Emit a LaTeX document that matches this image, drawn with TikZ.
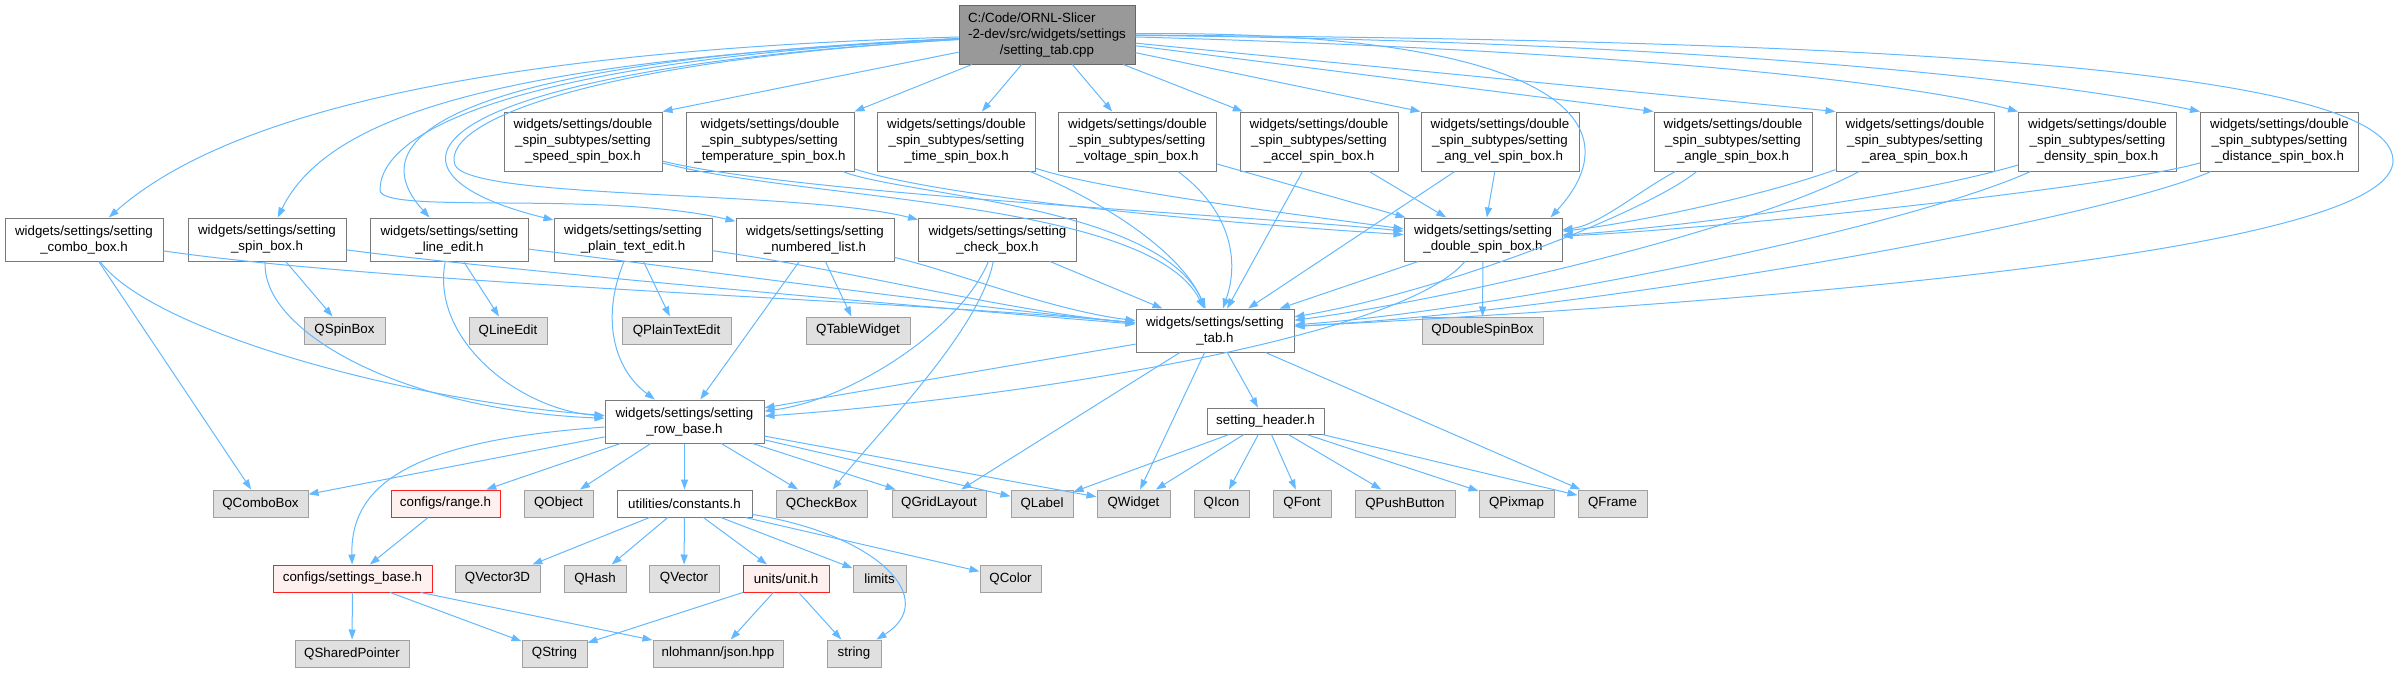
\documentclass[tikz,border=0pt]{standalone}
\usepackage{fontspec}
\setmainfont{Liberation Sans}
\usepackage{tikz}
\usetikzlibrary{positioning, arrows.meta}
\definecolor{linkblue}{HTML}{63B8FF}
\definecolor{boxgray}{HTML}{7A7A7A}
\definecolor{rootfill}{HTML}{999999}
\definecolor{rootline}{HTML}{666666}
\definecolor{extfill}{HTML}{E0E0E0}
\definecolor{extline}{HTML}{A0A0A0}
\definecolor{missfill}{HTML}{FFF0F0}
\definecolor{missline}{HTML}{FF2020}

\begin{document}
\begin{tikzpicture}[x=1pt, y=-1pt, font=\fontsize{13.33}{16}\selectfont,
  hbox/.style={draw=boxgray, fill=white, line width=1pt, inner sep=2pt, align=center, minimum height=27pt},
  subbox/.style={hbox, minimum width=158pt, minimum height=59pt},
  rowbox/.style={hbox, minimum width=158pt, minimum height=43pt},
  qbox/.style={hbox, draw=extline, fill=extfill},
  redbox/.style={hbox, draw=missline, fill=missfill},
  incl/.style={-{Stealth[length=10pt, width=7pt, inset=0pt]}, linkblue, line width=1pt}]
  \useasboundingbox (0,0) rectangle (2396,672);

  \node[hbox, draw=rootline, fill=rootfill, minimum width=176pt, minimum height=59pt] (tabcpp) at (1047,34.5)
    {\begin{tabular}[b]{@{}l@{}}C:/Code/ORNL-Slicer\\-2-dev/src/widgets/settings\end{tabular}\\/setting\_tab.cpp};

  \node[subbox] (speed) at (583,141.5) {widgets/settings/double\\\_spin\_subtypes/setting\\\_speed\_spin\_box.h};
  \node[subbox, minimum width=168pt] (temperature) at (770,141.5) {widgets/settings/double\\\_spin\_subtypes/setting\\\_temperature\_spin\_box.h};
  \node[subbox] (time) at (956.5,141.5) {widgets/settings/double\\\_spin\_subtypes/setting\\\_time\_spin\_box.h};
  \node[subbox] (voltage) at (1137.5,141.5) {widgets/settings/double\\\_spin\_subtypes/setting\\\_voltage\_spin\_box.h};
  \node[subbox] (accel) at (1319,141.5) {widgets/settings/double\\\_spin\_subtypes/setting\\\_accel\_spin\_box.h};
  \node[subbox] (angvel) at (1500,141.5) {widgets/settings/double\\\_spin\_subtypes/setting\\\_ang\_vel\_spin\_box.h};
  \node[subbox] (angle) at (1733,141.5) {widgets/settings/double\\\_spin\_subtypes/setting\\\_angle\_spin\_box.h};
  \node[subbox] (area) at (1915,141.5) {widgets/settings/double\\\_spin\_subtypes/setting\\\_area\_spin\_box.h};
  \node[subbox] (density) at (2097.5,141.5) {widgets/settings/double\\\_spin\_subtypes/setting\\\_density\_spin\_box.h};
  \node[subbox] (distance) at (2279.5,141.5) {widgets/settings/double\\\_spin\_subtypes/setting\\\_distance\_spin\_box.h};

  \node[rowbox] (combo) at (84,239.5) {widgets/settings/setting\\\_combo\_box.h};
  \node[rowbox] (spin) at (267,239.5) {widgets/settings/setting\\\_spin\_box.h};
  \node[rowbox] (lineedit) at (449.5,239.5) {widgets/settings/setting\\\_line\_edit.h};
  \node[rowbox] (plaintext) at (633,239.5) {widgets/settings/setting\\\_plain\_text\_edit.h};
  \node[rowbox] (numlist) at (815,239.5) {widgets/settings/setting\\\_numbered\_list.h};
  \node[rowbox] (checkbox) at (997.5,239.5) {widgets/settings/setting\\\_check\_box.h};
  \node[rowbox] (dspin) at (1483,239.5) {widgets/settings/setting\\\_double\_spin\_box.h};

  \node[qbox, minimum width=81pt] (qspinbox) at (344.5,330.5) {QSpinBox};
  \node[qbox, minimum width=78pt] (qlineedit) at (508,330.5) {QLineEdit};
  \node[qbox, minimum width=109pt] (qplaintextedit) at (676.5,330.5) {QPlainTextEdit};
  \node[qbox, minimum width=104pt] (qtablewidget) at (858,330.5) {QTableWidget};
  \node[qbox, minimum width=121pt] (qdoublespinbox) at (1482.5,330.5) {QDoubleSpinBox};
  \node[rowbox] (tabh) at (1215,330.5) {widgets/settings/setting\\\_tab.h};

  \node[rowbox, minimum width=159pt] (rowbase) at (684.5,421.5) {widgets/settings/setting\\\_row\_base.h};
  \node[hbox, minimum width=117pt, minimum height=26pt] (header) at (1265.5,421) {setting\_header.h};

  \node[qbox, minimum width=95pt] (qcombobox) at (260.5,503.5) {QComboBox};
  \node[redbox, minimum width=109pt] (range) at (445.5,503.5) {configs/range.h};
  \node[qbox, minimum width=69pt] (qobject) at (558.5,503.5) {QObject};
  \node[hbox, minimum width=135pt] (constants) at (684.5,503.5) {utilities/constants.h};
  \node[qbox, minimum width=91pt] (qcheckbox) at (821.5,503.5) {QCheckBox};
  \node[qbox, minimum width=94pt] (qgridlayout) at (939,503.5) {QGridLayout};
  \node[qbox, minimum width=62pt] (qlabel) at (1042,503.5) {QLabel};
  \node[qbox, minimum width=73pt] (qwidget) at (1133.5,503.5) {QWidget};
  \node[qbox, minimum width=55pt] (qicon) at (1221.5,503.5) {QIcon};
  \node[qbox, minimum width=58pt] (qfont) at (1302,503.5) {QFont};
  \node[qbox, minimum width=100pt] (qpushbutton) at (1405,503.5) {QPushButton};
  \node[qbox, minimum width=75pt] (qpixmap) at (1516.5,503.5) {QPixmap};
  \node[qbox, minimum width=69pt] (qframe) at (1612.5,503.5) {QFrame};

  \node[redbox, minimum width=159pt] (sbase) at (352.5,578.5) {configs/settings\_base.h};
  \node[qbox, minimum width=85pt] (qvectorthree) at (497.5,578.5) {QVector3D};
  \node[qbox, minimum width=62pt] (qhash) at (595,578.5) {QHash};
  \node[qbox, minimum width=70pt] (qvector) at (684,578.5) {QVector};
  \node[redbox, minimum width=86pt] (unit) at (786,578.5) {units/unit.h};
  \node[qbox, minimum width=53pt] (limits) at (879.5,578.5) {limits};
  \node[qbox, minimum width=61pt] (qcolor) at (1010.5,578.5) {QColor};

  \node[qbox, minimum width=114pt] (qsharedpointer) at (352,653.5) {QSharedPointer};
  \node[qbox, minimum width=65pt] (qstring) at (554.5,653.5) {QString};
  \node[qbox, minimum width=130pt] (json) at (718,653.5) {nlohmann/json.hpp};
  \node[qbox, minimum width=54pt] (string) at (854,653.5) {string};

  \draw[incl] (tabcpp) -- (speed.north east);
  \draw[incl] (tabcpp) -- (temperature.north east);
  \draw[incl] (tabcpp) -- (time);
  \draw[incl] (tabcpp) -- (voltage);
  \draw[incl] (tabcpp) -- (accel);
  \draw[incl] (tabcpp) -- (angvel.north west);
  \draw[incl] (tabcpp) -- (angle.north west);
  \draw[incl] (tabcpp) -- (area.north west);
  \draw[incl] (tabcpp) .. controls (1600,50) and (1900,80) .. (density.north west);
  \draw[incl] (tabcpp) .. controls (1600,40) and (2000,70) .. (distance.north west);
  \draw[incl] (tabcpp) .. controls (500,50) and (230,110) .. (combo);
  \draw[incl] (tabcpp) .. controls (520,60) and (330,110) .. (spin);
  \draw[incl] (tabcpp) .. controls (480,60) and (350,130) .. (lineedit);
  \draw[incl] (tabcpp) .. controls (420,70) and (350,170) .. (plaintext);
  \draw[incl] (tabcpp) .. controls (520,60) and (380,130) .. (380,190) .. controls (380,215) and (600,190) .. (numlist);
  \draw[incl] (tabcpp) .. controls (600,60) and (440,120) .. (455,165) .. controls (470,200) and (800,190) .. (checkbox);
  \draw[incl] (tabcpp) .. controls (1550,30) and (1640,120) .. ([xshift=-12pt]dspin.north east);
  \draw[incl] (tabcpp) .. controls (1900,40) and (2390,70) .. (2393,160) .. controls (2396,250) and (1800,300) .. (tabh);

  \draw[incl] (speed) .. controls (800,195) and (1250,215) .. (dspin);
  \draw[incl] (speed) .. controls (800,200) and (1150,200) .. (tabh);
  \draw[incl] (temperature) .. controls (950,200) and (1250,225) .. (dspin);
  \draw[incl] (temperature) .. controls (900,195) and (1160,205) .. (tabh);
  \draw[incl] (time) .. controls (1100,190) and (1300,215) .. (dspin);
  \draw[incl] (time) .. controls (1100,200) and (1180,250) .. (tabh);
  \draw[incl] (voltage) -- (dspin);
  \draw[incl] (voltage) .. controls (1230,210) and (1240,260) .. (tabh);
  \draw[incl] (accel) -- (dspin);
  \draw[incl] (accel) -- (tabh);
  \draw[incl] (angvel) -- (dspin);
  \draw[incl] (angvel) -- (tabh);
  \draw[incl] (angle) .. controls (1640,190) and (1600,225) .. (dspin);
  \draw[incl] (angle) .. controls (1650,210) and (1450,290) .. (tabh);
  \draw[incl] (area) .. controls (1750,200) and (1620,225) .. (dspin);
  \draw[incl] (area) .. controls (1750,230) and (1450,300) .. (tabh);
  \draw[incl] (density) .. controls (1900,200) and (1650,230) .. (dspin);
  \draw[incl] (density) .. controls (1900,230) and (1500,310) .. (tabh);
  \draw[incl] (distance) .. controls (2100,190) and (1700,230) .. (dspin);
  \draw[incl] (distance) .. controls (2100,220) and (1600,310) .. (tabh);

  \draw[incl] (combo) .. controls (400,285) and (900,300) .. (tabh);
  \draw[incl] (spin) .. controls (500,270) and (900,305) .. (tabh);
  \draw[incl] (lineedit) .. controls (700,270) and (950,305) .. (tabh);
  \draw[incl] (plaintext) .. controls (850,270) and (1000,310) .. (tabh);
  \draw[incl] (numlist) .. controls (950,270) and (1050,310) .. (tabh);
  \draw[incl] (checkbox) -- (tabh);
  \draw[incl] (dspin) -- (tabh);

  \draw[incl] (combo) .. controls (150,330) and (400,400) .. (rowbase);
  \draw[incl] (spin) .. controls (260,330) and (400,410) .. (rowbase);
  \draw[incl] (lineedit) .. controls (430,340) and (520,410) .. (rowbase);
  \draw[incl] (plaintext) .. controls (600,320) and (615,370) .. (rowbase);
  \draw[incl] (numlist) -- (rowbase);
  \draw[incl] (checkbox) .. controls (960,330) and (850,400) .. (rowbase);
  \draw[incl] (dspin) .. controls (1400,340) and (1000,400) .. (rowbase);
  \draw[incl] (tabh) -- (rowbase);

  \draw[incl] (combo) -- (qcombobox);
  \draw[incl] (spin) -- (qspinbox);
  \draw[incl] (lineedit) -- (qlineedit);
  \draw[incl] (plaintext) -- (qplaintextedit);
  \draw[incl] (numlist) -- (qtablewidget);
  \draw[incl] (checkbox) .. controls (980,330) and (880,430) .. (qcheckbox);
  \draw[incl] (dspin) -- (qdoublespinbox);

  \draw[incl] (tabh) -- (qgridlayout);
  \draw[incl] (tabh) -- (qwidget);
  \draw[incl] (tabh) -- (header);
  \draw[incl] (tabh) -- (qframe);
  \draw[incl] (header) -- (qlabel);
  \draw[incl] (header) -- (qwidget);
  \draw[incl] (header) -- (qicon);
  \draw[incl] (header) -- (qfont);
  \draw[incl] (header) -- (qpushbutton);
  \draw[incl] (header) -- (qpixmap);
  \draw[incl] (header) -- (qframe);

  \draw[incl] (rowbase) -- (qcombobox);
  \draw[incl] (rowbase) .. controls (420,440) and (350,480) .. (sbase);
  \draw[incl] (rowbase) -- (range);
  \draw[incl] (rowbase) -- (qobject);
  \draw[incl] (rowbase) -- (constants);
  \draw[incl] (rowbase) -- (qcheckbox);
  \draw[incl] (rowbase) -- (qgridlayout);
  \draw[incl] (rowbase) -- (qlabel);
  \draw[incl] (rowbase) -- (qwidget);

  \draw[incl] (range) -- (sbase);
  \draw[incl] (constants) -- (qvectorthree);
  \draw[incl] (constants) -- (qhash);
  \draw[incl] (constants) -- (qvector);
  \draw[incl] (constants) -- (unit);
  \draw[incl] (constants) -- (limits);
  \draw[incl] (constants) -- (qcolor);
  \draw[incl] (constants) .. controls (880,535) and (940,600) .. (string);

  \draw[incl] (sbase) -- (qsharedpointer);
  \draw[incl] (sbase) -- (qstring);
  \draw[incl] (sbase) -- (json);
  \draw[incl] (unit) -- (qstring);
  \draw[incl] (unit) -- (json);
  \draw[incl] (unit) -- (string);
\end{tikzpicture}
\end{document}
